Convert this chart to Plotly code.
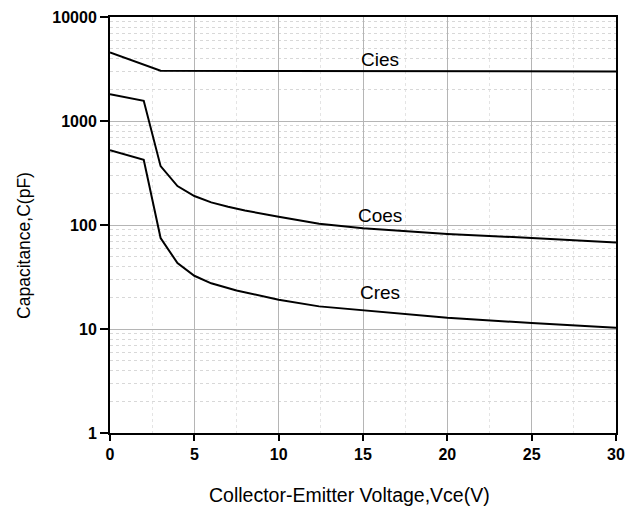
import math
import plotly.graph_objects as go

vce_cies = [0, 3, 10, 20, 30]
cies = [4560, 3050, 3020, 3000, 3000]

vce_coes = [0, 2, 3, 4, 5, 6, 7, 8, 10, 12.4, 15, 20, 25, 30]
coes = [1808, 1563, 368, 237, 190, 165, 150, 138, 120, 103, 93, 82, 75, 68]

vce_cres = [0, 2, 3, 4, 5, 6, 7.5, 10, 12.4, 15, 20, 25, 30]
cres = [524, 423, 75, 43, 32.5, 27.5, 23.5, 19.1, 16.5, 15.1, 12.8, 11.4, 10.3]

labels = ["Cies", "Coes", "Cres"]
label_x = [16, 16, 16]
label_y = [3880, 124, 22.2]

y_tickvals = [1, 10, 100, 1000, 10000]
y_ticktext = ["1", "10", "100", "1000", "10000"]

x_title = "Collector-Emitter Voltage,Vce(V)"
y_title = "Capacitance,C(pF)"

FONT = "Liberation Sans, Arial, sans-serif"

fig = go.Figure()
for xs, ys, name in [(vce_cies, cies, "Cies"), (vce_coes, coes, "Coes"), (vce_cres, cres, "Cres")]:
    fig.add_trace(go.Scatter(x=xs, y=ys, mode="lines", name=name,
                             line=dict(color="black", width=2)))

for t, lx, ly in zip(labels, label_x, label_y):
    fig.add_annotation(x=lx, y=math.log10(ly), text=t, showarrow=False,
                       font=dict(family=FONT, size=19, color="black"))

# axis titles
fig.add_annotation(xref="paper", yref="paper", x=0.474, y=-0.150, text=x_title,
                   showarrow=False, xanchor="center", yanchor="middle",
                   font=dict(family=FONT, size=19.5, color="black"))
fig.add_annotation(xref="paper", yref="paper", x=-0.170, y=0.452, text=y_title,
                   showarrow=False, xanchor="center", yanchor="middle", textangle=-90,
                   font=dict(family=FONT, size=17.5, color="black"))

# page body has an 8px margin; figure sized to fit the window
fig.update_layout(
    width=627, height=501,
    margin=dict(l=102, r=19, t=9, b=76, autoexpand=False),
    plot_bgcolor="white", paper_bgcolor="white",
    showlegend=False,
    font=dict(family=FONT, color="black"),
)
fig.update_xaxes(
    range=[0, 30], dtick=5, tick0=0,
    showline=True, linecolor="black", linewidth=2, mirror=True,
    ticks="outside", ticklen=6, tickwidth=2, tickcolor="black",
    tickfont=dict(family=FONT, size=16, weight="bold"), ticklabeloverflow="allow",
    showgrid=True, gridcolor="#b5b5b5", gridwidth=1, zeroline=False,
    minor=dict(dtick=2.5, showgrid=True, gridcolor="#e4e4e4", griddash="dot", ticks=""),
)
fig.update_yaxes(
    type="log", range=[0, 4], tickvals=y_tickvals, ticktext=y_ticktext,
    showline=True, linecolor="black", linewidth=2, mirror=True,
    ticks="outside", ticklen=8, tickwidth=2, tickcolor="black",
    tickfont=dict(family=FONT, size=16, weight="bold"), ticklabeloverflow="allow",
    showgrid=True, gridcolor="#b5b5b5", gridwidth=1, zeroline=False,
    minor=dict(dtick="D1", showgrid=True, gridcolor="#d8d8d8", griddash="dot", ticks=""),
)

fig.write_html("out.html")
